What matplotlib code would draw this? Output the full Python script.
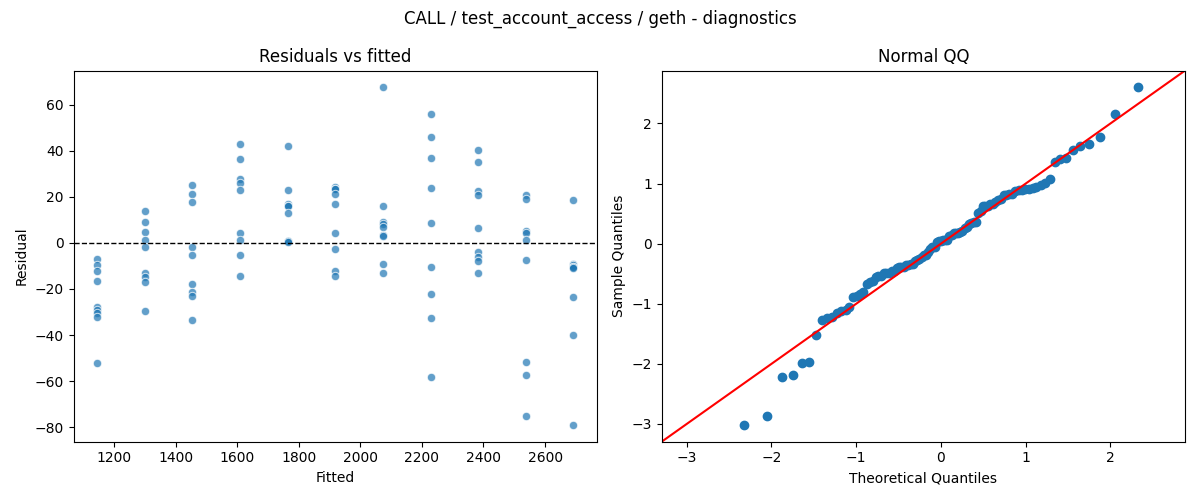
import matplotlib
matplotlib.use("Agg")
import matplotlib.pyplot as plt
import numpy as np
from statistics import NormalDist

# Fitted levels (one per group)
fitted_levels = [1146, 1301, 1455, 1610, 1764, 1919, 2073, 2228, 2382, 2537, 2691]

# Residuals per fitted level
res_1146 = [-6.9, -9.5, -12.3, -16.6, -28.0, -29.0, -30.6, -32.1, -52.0]
res_1301 = [13.9, 9.0, 4.6, 1.2, -1.7, -13.0, -14.6, -16.9, -29.5]
res_1455 = [25.0, 21.1, 17.6, -1.7, -5.3, -17.9, -21.5, -23.0, -33.4]
res_1610 = [42.9, 36.3, 27.7, 25.9, 22.8, 4.3, 1.2, -5.3, -14.5]
res_1764 = [42.3, 22.8, 16.8, 16.0, 16.0, 12.9, 0.9, 0.9, 0.3]
res_1919 = [24.4, 23.6, 23.6, 21.1, 16.8, 4.2, -2.7, -12.1, -14.5]
res_2073 = [67.5, 16.0, 9.2, 8.1, 6.8, 3.3, 2.9, -9.2, -13.2]
res_2228 = [55.8, 46.2, 36.7, 23.7, 8.5, -10.5, -22.3, -32.7, -58.1]
res_2382 = [40.2, 35.0, 22.4, 20.7, 6.4, -3.9, -6.2, -7.7, -13.0]
res_2537 = [20.7, 18.9, 5.3, 4.2, 1.3, -7.5, -51.7, -57.4, -75.1]
res_2691 = [18.6, -9.2, -9.8, -10.3, -10.5, -10.8, -23.6, -40.0, -79.0]

groups = [res_1146, res_1301, res_1455, res_1610, res_1764, res_1919,
          res_2073, res_2228, res_2382, res_2537, res_2691]

fitted = np.concatenate([[f] * len(g) for f, g in zip(fitted_levels, groups)])
resid = np.concatenate([np.array(g, dtype=float) for g in groups])

title = "CALL / test_account_access / geth - diagnostics"

fig, (ax1, ax2) = plt.subplots(1, 2, figsize=(12, 5), dpi=100)

# Residuals vs fitted
ax1.scatter(fitted, resid, s=36, color="#1f77b4", alpha=0.7,
            edgecolors="white", linewidths=0.75)
ax1.axhline(0, color="black", linestyle="--", linewidth=1)
ax1.set_title("Residuals vs fitted")
ax1.set_xlabel("Fitted")
ax1.set_ylabel("Residual")
ax1.set_xticks([1200, 1400, 1600, 1800, 2000, 2200, 2400, 2600])
ax1.set_yticks([-80, -60, -40, -20, 0, 20, 40, 60])

# Normal QQ of standardized residuals
z = np.sort((resid - resid.mean()) / resid.std())
n = len(z)
nd = NormalDist()
theo = np.array([nd.inv_cdf(i / (n + 1)) for i in range(1, n + 1)])
ax2.plot(theo, z, "o", color="#1f77b4")
ax2.autoscale_view()
xl = ax2.get_xlim()
yl = ax2.get_ylim()
lo = min(xl[0], yl[0])
hi = max(xl[1], yl[1])
ax2.plot([lo, hi], [lo, hi], "r-")
ax2.set_xlim(lo, hi)
ax2.set_ylim(lo, hi)
ax2.set_title("Normal QQ")
ax2.set_xlabel("Theoretical Quantiles")
ax2.set_ylabel("Sample Quantiles")

fig.suptitle(title)
fig.tight_layout()
fig.savefig("out.png")
